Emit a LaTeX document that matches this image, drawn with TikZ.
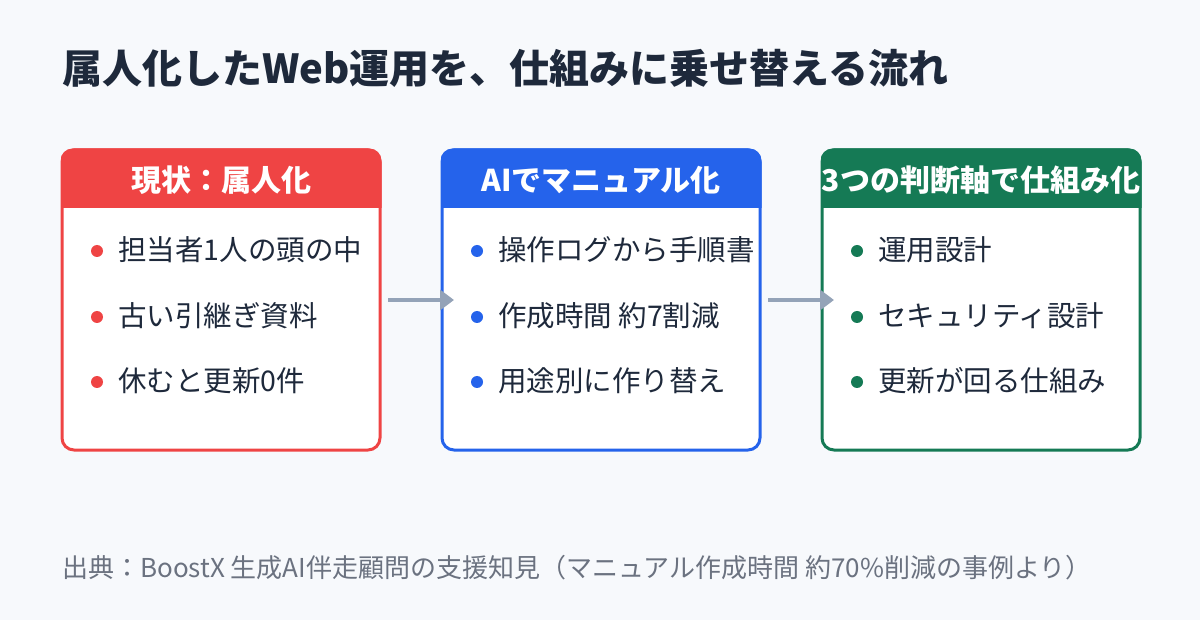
\documentclass[tikz,border=0pt]{standalone}
\usepackage{fontspec}
\setmainfont{Noto Sans CJK JP}
\usetikzlibrary{arrows.meta}
\definecolor{bg}{HTML}{F7F9FC}
\definecolor{cred}{HTML}{EF4444}
\definecolor{cblue}{HTML}{2563EB}
\definecolor{cgreen}{HTML}{157A55}
\definecolor{ctext}{HTML}{1E293B}
\definecolor{cgray}{HTML}{94A3B8}
\definecolor{cfoot}{HTML}{6B7280}
\begin{document}
\begin{tikzpicture}[x=1pt,y=-1pt,
  box/.style={draw=#1,line width=3pt,rounded corners=12pt,fill=white},
  htext/.style={text=white,font=\fontsize{30}{34}\selectfont\bfseries,anchor=center},
  item/.style={text=ctext,font=\fontsize{28.5}{32}\selectfont,anchor=west},
  dot/.style={fill=#1,draw=none,circle,minimum size=12pt,inner sep=0pt},
  arr/.style={draw=cgray,line width=4pt,-{Triangle[length=14pt,width=20pt]}}]
\fill[bg] (0,0) rectangle (1200,620);
\node[anchor=west,text=ctext,font=\fontsize{40}{46}\selectfont\bfseries,inner sep=0pt] (title) at (62,68) {属人化したWeb運用を、仕組みに乗せ替える流れ};
\foreach \x/\c/\h/\a/\b/\d/\n in {62/cred/現状：属人化/担当者1人の頭の中/古い引継ぎ資料/休むと更新0件/A,442/cblue/AIでマニュアル化/操作ログから手順書/作成時間 約7割減/用途別に作り替え/B,822/cgreen/3つの判断軸で仕組み化/運用設計/セキュリティ設計/更新が回る仕組み/C}{
  \draw[box=\c] (\x,150) rectangle ++(318,300);
  \begin{scope}
  \clip[rounded corners=12pt] (\x-1.5,148.5) rectangle ++(321,150);
  \fill[\c] (\x-1.5,148.5) rectangle ++(321,59.5);
  \end{scope}
  \node[htext] (h\n) at (\x+159,180) {\h};
  \node[dot=\c] (d1\n) at (\x+35,251) {};
  \node[item,inner sep=0pt] (t1\n) at (\x+56,250) {\a};
  \node[dot=\c] (d2\n) at (\x+35,317) {};
  \node[item,inner sep=0pt] (t2\n) at (\x+56,316) {\b};
  \node[dot=\c] (d3\n) at (\x+35,382) {};
  \node[item,inner sep=0pt] (t3\n) at (\x+56,381) {\d};
}
\coordinate (a1) at (388,300); \coordinate (a2) at (454,300);
\coordinate (b1) at (768,300); \coordinate (b2) at (834,300);
\draw[arr] (a1) -- (a2);
\draw[arr] (b1) -- (b2);
\node[anchor=west,text=cfoot,font=\fontsize{26}{30}\selectfont,inner sep=0pt] (foot) at (62,568) {出典：BoostX 生成AI伴走顧問の支援知見（マニュアル作成時間 約70\%削減の事例より）};
\end{tikzpicture}
\end{document}
